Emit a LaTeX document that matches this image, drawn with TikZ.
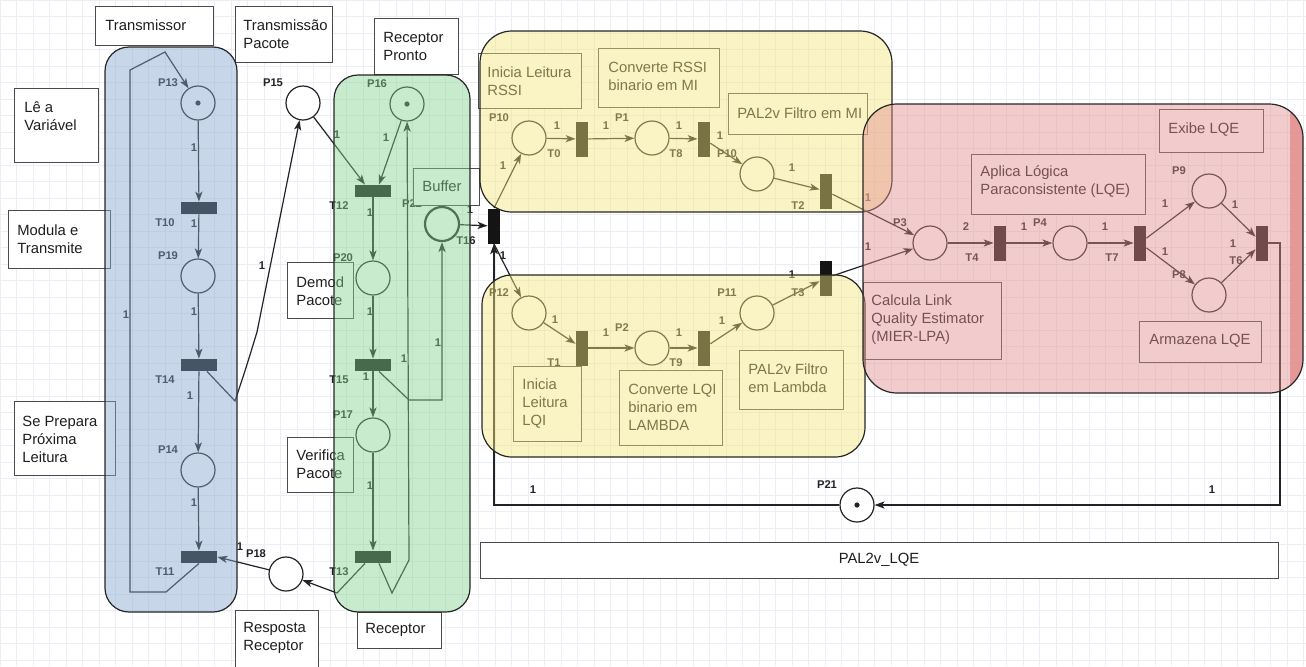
\documentclass[tikz,border=0pt]{standalone}
\usepackage{fontspec}
\setmainfont{Liberation Sans}
\usetikzlibrary{arrows.meta}

\definecolor{netline}{RGB}{35,35,35}
\definecolor{netdark}{RGB}{20,20,20}
\definecolor{boxgray}{RGB}{75,75,75}
\definecolor{txtdark}{RGB}{30,30,30}
\definecolor{gridblue}{RGB}{236,238,247}
\definecolor{laneblue}{RGB}{133,166,204}
\definecolor{lanegreen}{RGB}{133,211,144}
\definecolor{laneyellow}{RGB}{244,229,122}
\definecolor{lanepink}{RGB}{227,144,144}
\definecolor{pinkedge}{RGB}{226,136,136}

\newcommand{\boxfont}{\fontsize{7.4}{9}\selectfont}
\newcommand{\tagfont}{\fontsize{5.6}{6.5}\selectfont\bfseries}

\tikzset{%
    place/.style={circle,draw=netline,line width=0.6pt,fill=white,minimum size=17pt,inner sep=0pt},
    htr/.style={fill=netdark,inner sep=0pt,minimum width=18pt,minimum height=6pt},
    vtr/.style={fill=netdark,inner sep=0pt,minimum width=6pt,minimum height=17.5pt},
    arc/.style={draw=netline,line width=0.6pt,-{Stealth[length=5pt,width=3.6pt,inset=1.3pt]}}
}

\begin{document}
\begin{tikzpicture}[x=0.5pt,y=-0.5pt,
        tag/.style={font=\tagfont,text=netline,inner sep=0pt},
        txt/.style={font=\boxfont,text=txtdark,align=left,anchor=west,inner sep=0pt},
        box/.style={draw=boxgray,line width=0.5pt,fill=white},
        region/.style={draw=black!85,line width=0.6pt,fill opacity=0.45}]
    \useasboundingbox (0,0) rectangle (1306,666);
    \fill[white] (0,0) rectangle (1306,666);
    \draw[gridblue,line width=0.3pt,step=8.25pt] (0,0) grid (1306,666);

    % transmissor
    \node[place] (p13) at (198,103) {};
    \node[htr] (t10) at (199,208) {};
    \node[place] (p19) at (198,276) {};
    \node[htr] (t14) at (199,365) {};
    \node[place] (p14) at (198,470) {};
    \node[htr] (t11) at (199,557) {};
    \node[place] (p15) at (303,103) {};
    \node[place] (p18) at (286,574) {};

    % receptor
    \node[place] (p16) at (407,104) {};
    \node[htr] (t12) at (373,191) {};
    \node[place] (p20) at (373,278) {};
    \node[htr] (t15) at (373,365) {};
    \node[place] (p17) at (373,435) {};
    \node[htr] (t13) at (373,557) {};
    \node[place,line width=1.1pt] (p22) at (442,224) {};
    \node[vtr] (t16) at (494,226) {};

    % leituras RSSI / LQI
    \node[place] (p10) at (529,138) {};
    \node[vtr] (t0) at (582,139) {};
    \node[place] (p1) at (652,138) {};
    \node[vtr] (t8) at (704,139) {};
    \node[place] (p10b) at (757,174) {};
    \node[vtr] (t2) at (826,191) {};
    \node[place] (p12) at (529,313) {};
    \node[vtr] (t1) at (582,348) {};
    \node[place] (p2) at (652,348) {};
    \node[vtr] (t9) at (704,348) {};
    \node[place] (p11) at (757,313) {};
    \node[vtr] (t3) at (826,278) {};

    % LQE
    \node[place] (p3) at (930,243) {};
    \node[vtr] (t4) at (1000,243) {};
    \node[place] (p4) at (1070,243) {};
    \node[vtr] (t7) at (1140,243) {};
    \node[place] (p9) at (1209,191) {};
    \node[place] (p8) at (1209,295) {};
    \node[vtr] (t6) at (1262,243) {};
    \node[place] (p21) at (857,505) {};

    \foreach \n in {p13,p16,p21}
        \fill[netline] (\n) circle (1.3pt);

    \path[arc]
        (p13) edge (t10)
        (t10) edge (p19)
        (p19) edge (t14)
        (t14) edge (p14)
        (p14) edge (t11)
        (p18) edge (t11.east)
        (p15) edge ([xshift=-4pt]t12.north)
        (p16) edge ([xshift=3pt]t12.north)
        (t12) edge (p20)
        (p20) edge (t15)
        (t15) edge (p17)
        (p17) edge (t13)
        (p22) edge (t16)
        (t16.north) edge (p10)
        (t16.south) edge (p12)
        (p10) edge (t0)
        (t0) edge (p1)
        (p1) edge (t8)
        (t8) edge (p10b)
        (p10b) edge (t2)
        (t2) edge (p3)
        (p12) edge (t1)
        (t1) edge (p2)
        (p2) edge (t9)
        (t9) edge (p11)
        (p11) edge (t3)
        (t3) edge (p3)
        (p3) edge (t4)
        (t4) edge (p4)
        (p4) edge (t7)
        (t7) edge (p9)
        (t7) edge (p8)
        (p9) edge (t6)
        (p8) edge (t6);
    \draw[arc] (t11.south) -- (166,592) -- (130,592) -- (130,70) -- (165,52) -- (p13);
    \draw[arc] ([xshift=4pt]t14.south) -- (235,401) .. controls (246,368) .. (257,332) -- (p15);
    \draw[arc] ([xshift=3pt]t15.south) -- (409,400) -- (442,400) -- (p22);
    \draw[arc] ([xshift=3pt]t13.south) -- (392,593) -- (409,560) -- (p16);
    \draw[arc] ([xshift=-4pt]t13.south) -- (337,593) -- (p18);
    \draw[arc] (p21) -- (t16.south |- p21) -- (t16.south);
    \draw[arc] (t6.east) -- (1280,243) -- (1280,505) -- (p21);

    \foreach \n/\t in {p13/P13,p19/P19,p14/P14,p15/P15,p18/P18,p16/P16,p20/P20,p17/P17,
            p22/P22,p10/P10,p1/P1,p10b/P10,p12/P12,p2/P2,p11/P11,p3/P3,p4/P4,p9/P9,p8/P8,p21/P21}
        \node[tag] (l\n) at ([shift={(-15pt,10pt)}]\n) {\t};
    \foreach \n/\t in {t10/T10,t14/T14,t11/T11,t12/T12,t15/T15,t13/T13}
        \node[tag] (l\n) at ([shift={(-17pt,-7.5pt)}]\n) {\t};
    \foreach \n/\t in {t16/T16,t0/T0,t8/T8,t2/T2,t1/T1,t9/T9,t3/T3,t4/T4,t7/T7}
        \node[tag] (l\n) at ([shift={(-14pt,-7.5pt)}]\n) {\t};
    \node[tag] (lt6) at ([shift={(-13pt,-9pt)}]t6) {T6};

    \foreach \x/\y [count=\i] in {194/148,194/224,194/312,190/396,194/503,126/315,262/266,240/547,
            337/135,386/138,370/213,370/312,366/377,370/486,404/359,438/343,
            470/210,503/166,503/256,557/126,606/126,679/126,720/136,792/168,868/198,
            555/320,606/333,679/333,722/321,792/275,868/247,1024/227,1105/227,
            1165/204,1165/252,1235/205,1233/244,533/490,1212/490}
        \node[tag] (w\i) at (\x,\y) {1};
    \node[tag] (w0) at (966,227) {2};

    \draw[box] (95,6) rectangle (213,45);
    \node[txt] (transmissor) at (105,25) {Transmissor};
    \draw[box] (235,6) rectangle (332,62);
    \node[txt] (transpacote) at (243,34) {Transmissão\\Pacote};
    \draw[box] (14,88) rectangle (98,162);
    \node[txt] (levariavel) at (24,116) {Lê a\\Variável};
    \draw[box] (8,210) rectangle (110,268);
    \node[txt] (modula) at (17,239) {Modula e\\Transmite};
    \draw[box] (14,401) rectangle (115,475);
    \node[txt] (prepara) at (22,439) {Se Prepara\\Próxima\\Leitura};
    \draw[box] (235,610) rectangle (318,667);
    \node[txt] (resposta) at (243,638) {Resposta\\Receptor};
    \draw[box] (357,612) rectangle (441,648);
    \node[txt] (receptor) at (365,630) {Receptor};
    \draw[box] (374,18) rectangle (458,74);
    \node[txt] (pronto) at (383,46) {Receptor\\Pronto};
    \draw[box] (287,262) rectangle (353,318);
    \node[txt] (demod) at (296,291) {Demod\\Pacote};
    \draw[box] (287,437) rectangle (353,492);
    \node[txt] (verifica) at (296,464) {Verifica\\Pacote};
    \draw[box] (413,168) rectangle (479,205);
    \node[txt] (buffer) at (422,186) {Buffer};
    \draw[box] (478,53) rectangle (581,108);
    \node[txt] (leiturarssi) at (487,81) {Inicia Leitura\\RSSI};
    \draw[box] (598,48) rectangle (719,107);
    \node[txt] (convrssi) at (608,76) {Converte RSSI\\binario em MI};
    \draw[box] (728,93) rectangle (867,134);
    \node[txt] (filtromi) at (737,113) {PAL2v Filtro em MI};
    \draw[box] (513,366) rectangle (581,441);
    \node[txt] (leituralqi) at (522,404) {Inicia\\Leitura\\LQI};
    \draw[box] (619,370) rectangle (722,445);
    \node[txt] (convlqi) at (628,407) {Converte LQI\\binario em\\LAMBDA};
    \draw[box] (739,350) rectangle (843,409);
    \node[txt] (filtrolambda) at (748,378) {PAL2v Filtro\\em Lambda};
    \draw[box] (1159,109) rectangle (1263,152);
    \node[txt] (exibe) at (1168,130) {Exibe LQE};
    \draw[box] (971,154) rectangle (1145,214);
    \node[txt] (aplica) at (980,182) {Aplica Lógica\\Paraconsistente (LQE)};
    \draw[box] (863,282) rectangle (1001,359);
    \node[txt] (calcula) at (871,320) {Calcula Link\\Quality Estimator\\(MIER-LPA)};
    \draw[box] (1139,321) rectangle (1261,362);
    \node[txt] (armazena) at (1149,341) {Armazena LQE};
    \draw[box] (480,542) rectangle (1278,578);
    \node[txt,anchor=center] (pal2v) at (879,560) {PAL2v\_LQE};

    \draw[region,fill=laneblue,rounded corners=12pt] (105,47) rectangle (237,612);
    \draw[region,fill=lanegreen,rounded corners=12pt] (334,75) rectangle (470,612);
    \draw[region,fill=laneyellow,rounded corners=16pt] (480,31) rectangle (892,212);
    \draw[region,fill=laneyellow,rounded corners=15pt] (482,275) rectangle (865,457);
    \begin{scope}
        \clip[rounded corners=17pt] (863,104) rectangle (1303,393);
        \fill[pinkedge,opacity=0.8] (1290,104) rectangle (1303,393);
    \end{scope}
    \draw[region,fill=lanepink,rounded corners=17pt] (863,104) rectangle (1303,393);
\end{tikzpicture}
\end{document}
